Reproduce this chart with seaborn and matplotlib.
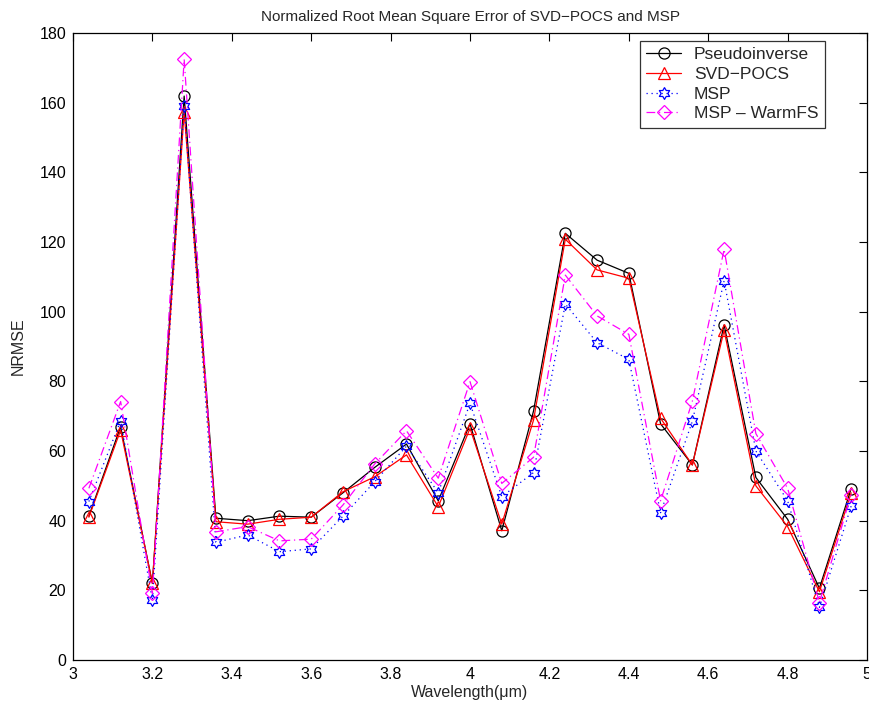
import numpy as np
import pandas as pd
import matplotlib
matplotlib.use("Agg")
import matplotlib.pyplot as plt
import seaborn as sns

# Wavelength samples (micrometres)
wavelength = [3.04, 3.12, 3.20, 3.28, 3.36, 3.44, 3.52, 3.60, 3.68, 3.76,
              3.84, 3.92, 4.00, 4.08, 4.16, 4.24, 4.32, 4.40, 4.48, 4.56,
              4.64, 4.72, 4.80, 4.88, 4.96]

pseudoinverse = [41.3, 67.0, 22.0, 161.9, 40.7, 40.0, 41.3, 41.0, 48.0, 55.3,
                 62.0, 45.7, 67.8, 37.1, 71.5, 122.5, 114.8, 111.0, 67.8, 56.0,
                 96.2, 52.4, 40.4, 20.6, 49.2]
svd_pocs = [41.0, 66.0, 22.0, 157.4, 39.7, 39.0, 40.4, 41.0, 48.3, 52.6,
            58.9, 44.0, 66.5, 39.0, 68.9, 120.8, 112.0, 109.6, 69.4, 56.0,
            94.7, 50.0, 38.3, 19.6, 48.0]
msp = [45.5, 68.7, 17.2, 159.0, 33.8, 35.9, 31.1, 31.9, 41.3, 51.2,
       61.4, 48.0, 73.7, 46.9, 53.8, 102.2, 91.1, 86.3, 42.3, 68.5,
       108.9, 60.0, 45.7, 15.1, 44.2]
msp_warmfs = [49.3, 74.2, 19.1, 172.5, 36.8, 38.3, 34.2, 34.7, 44.5, 56.3,
              65.8, 52.2, 79.9, 50.7, 58.2, 110.5, 98.8, 93.5, 45.7, 74.3,
              117.9, 65.0, 49.3, 16.5, 47.5]

series_names = ["Pseudoinverse", "SVD\u2212POCS", "MSP", "MSP \u2013 WarmFS"]

# Star-of-David outline used for the MSP marker
ang_out = np.pi / 2 + np.arange(6) * np.pi / 3
ang_in = ang_out + np.pi / 6
r_in = 1 / np.sqrt(3)
hex_verts = []
for a, b in zip(ang_out, ang_in):
    hex_verts.append((np.cos(a), np.sin(a)))
    hex_verts.append((r_in * np.cos(b), r_in * np.sin(b)))
hex_verts.append(hex_verts[0])

sns.set_style("white")
plt.rcParams["font.family"] = ["Liberation Sans", "DejaVu Sans"]

fig = plt.figure(figsize=(8.7, 7.1), dpi=100)
ax = fig.add_axes([0.0839, 0.0704, 0.9127, 0.8831])

df = pd.DataFrame({"wavelength": wavelength,
                   series_names[0]: pseudoinverse,
                   series_names[1]: svd_pocs,
                   series_names[2]: msp,
                   series_names[3]: msp_warmfs})

styles = [
    dict(color="black", marker="o", linestyle="-", markersize=8),
    dict(color="red", marker="^", linestyle="-", markersize=8.5),
    dict(color="blue", marker=hex_verts, linestyle=(0, (1, 3)), markersize=8.5),
    dict(color="magenta", marker="D", linestyle=(0, (7, 3, 1, 3)), markersize=7),
]

for name, st in zip(series_names, styles):
    sns.lineplot(data=df, x="wavelength", y=name, ax=ax, label=name,
                 color=st["color"], marker=st["marker"], linestyle=st["linestyle"],
                 markersize=st["markersize"], markerfacecolor="none",
                 markeredgecolor=st["color"], markeredgewidth=0.9,
                 linewidth=0.9)

ax.set_xlim(3, 5)
ax.set_ylim(0, 180)
ax.set_xticks(np.arange(3, 5.01, 0.2))
ax.set_xticklabels(["3", "3.2", "3.4", "3.6", "3.8", "4", "4.2", "4.4", "4.6", "4.8", "5"])
ax.set_yticks(np.arange(0, 181, 20))
ax.tick_params(direction="in", length=6, width=0.8, top=True, right=True,
               labelsize=11.5, colors="black", pad=5)
for sp in ax.spines.values():
    sp.set_color("black")
    sp.set_linewidth(0.9)

ax.set_xlabel("Wavelength(\u03bcm)", fontsize=11.5, labelpad=2)
ax.set_ylabel("NRMSE", fontsize=11.5, labelpad=10)
ax.set_title("Normalized Root Mean Square Error of SVD\u2212POCS and MSP",
             fontsize=11, pad=9)

leg = ax.legend(loc="upper left", bbox_to_anchor=(0.7137, 0.988), fontsize=12.5,
                frameon=True, fancybox=False, edgecolor="black",
                borderpad=0.38, labelspacing=0.26, handlelength=2.0,
                handletextpad=0.75, borderaxespad=0.0)
leg.get_frame().set_linewidth(0.9)

fig.savefig("out.png", dpi=100)
